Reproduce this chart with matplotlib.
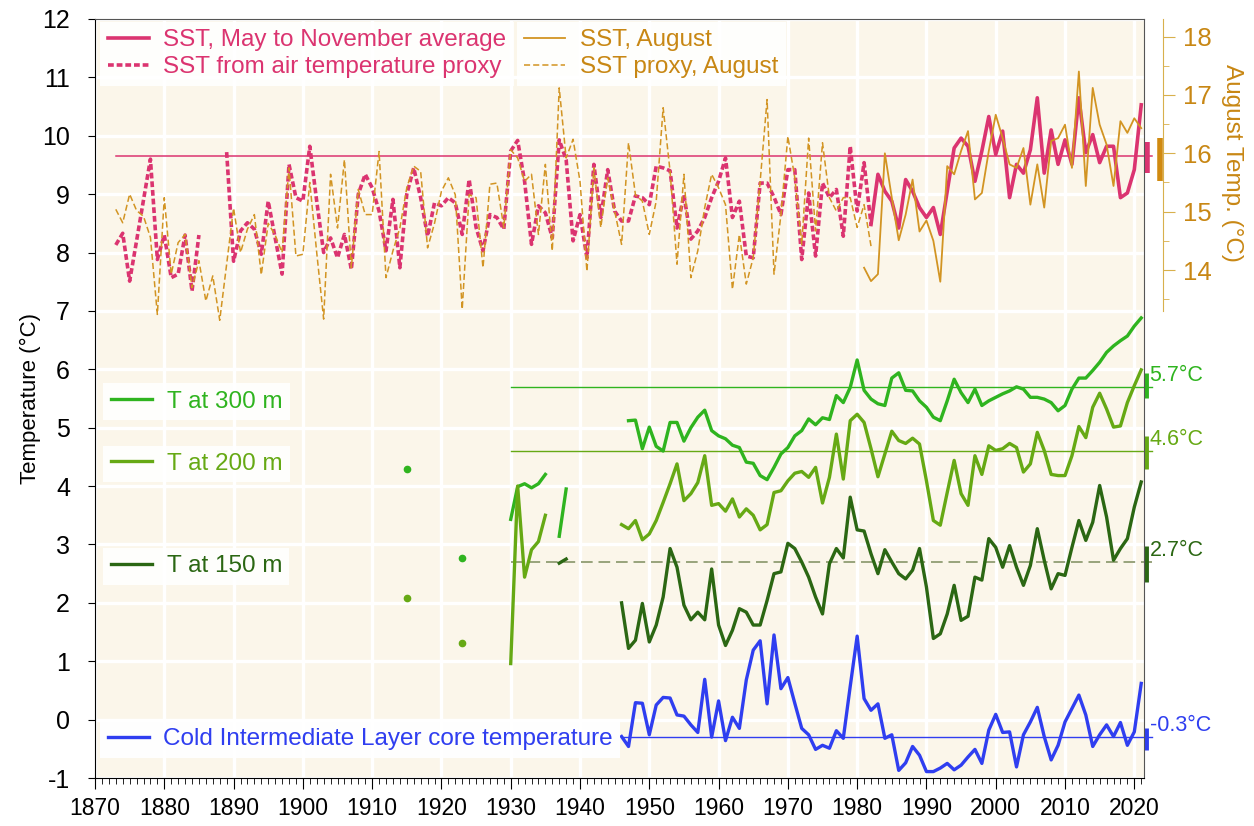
import numpy as np
import matplotlib
matplotlib.use("Agg")
import matplotlib.pyplot as plt
from matplotlib.lines import Line2D

plt.rcParams['font.family'] = ['Liberation Sans', 'DejaVu Sans']
plt.rcParams['axes.unicode_minus'] = False

nan = np.nan

# Sea surface temperature, May-November mean (measured) and air-temperature proxy
sst_years = np.arange(1982, 2022)
sst = [8.48, 9.34, 9.05, 8.88, 8.42, 9.25, 9.05, 8.77, 8.60, 8.77,
       8.31, 9.05, 9.79, 9.96, 9.82, 9.22, 9.74, 10.33, 9.68, 10.08,
       8.94, 9.51, 9.36, 9.76, 10.65, 9.36, 10.10, 9.51, 9.93, 9.51,
       10.65, 9.71, 10.02, 9.54, 9.82, 9.82, 8.94, 9.02, 9.42, 10.53]

proxy_years = np.arange(1873, 1983)
sst_proxy = [8.13, 8.33, 7.51, 8.20, 8.90, 9.60, 7.88, 8.30, 7.57, 7.63,
             8.30, 7.34, 8.30, nan, nan, nan, 9.72, 7.85, 8.37, 8.51,
             8.40, 7.97, 8.88, 8.25, 7.63, 9.51, 8.94, 8.88, 9.82, 8.88,
             8.00, 8.25, 7.91, 8.31, 7.71, 9.00, 9.34, 9.11, 8.71, 8.03,
             8.91, 7.74, 9.00, 9.45, 8.94, 8.28, 8.85, 8.80, 8.94, 8.85,
             8.31, 9.25, 8.43, 8.03, 8.65, 8.60, 8.40, 9.74, 9.92, 9.22,
             8.14, 8.80, 8.68, 8.25, 9.93, 9.59, 8.20, 8.65, 7.91, 9.51,
             8.60, 9.42, 8.71, 8.54, 8.54, 8.97, 8.94, 8.82, 9.48, 9.45,
             9.40, 8.42, 8.99, 8.23, 8.37, 8.60, 8.94, 9.22, 9.62, 8.60,
             8.88, 7.94, 7.91, 9.19, 9.19, 8.95, 8.65, 9.42, 9.42, 7.88,
             9.02, 7.94, 9.19, 8.94, 9.08, 8.28, 9.82, 8.71, 9.54, 8.48]

# August SST (right axis, degC)
aug_years = np.arange(1981, 2022)
aug_sst = [14.04, 13.81, 13.93, 16.00, 15.24, 14.51, 14.95, 15.55, 14.66, 14.85,
           14.50, 13.80, 15.78, 15.64, 16.04, 16.38, 15.21, 15.32, 16.04, 16.66,
           16.26, 15.81, 15.75, 16.09, 15.12, 15.81, 15.07, 16.21, 16.26, 16.49,
           15.75, 17.40, 15.44, 17.12, 16.49, 16.15, 15.44, 16.55, 16.35, 16.60,
           16.43]

aug_proxy = [15.04, 14.81, 15.30, 15.02, 14.92, 14.56, 13.24, 15.24, 13.93, 14.47,
             14.61, 13.70, 14.16, 13.47, 13.90, 13.14, 14.10, 15.06, 14.30, 14.70,
             14.95, 13.92, 14.80, 14.60, 14.30, 15.75, 14.24, 14.27, 15.50, 14.30,
             13.16, 15.64, 14.72, 15.89, 14.04, 15.38, 14.95, 14.95, 16.03, 13.87,
             14.33, 14.72, 15.41, 15.78, 15.69, 14.38, 14.80, 15.35, 15.58, 15.29,
             13.33, 15.29, 15.24, 14.04, 15.47, 15.49, 14.73, 16.06, 15.92, 15.52,
             15.64, 14.61, 15.81, 14.33, 17.12, 15.92, 16.24, 15.52, 13.98, 15.75,
             14.73, 15.58, 15.01, 14.44, 16.18, 15.29, 15.18, 14.61, 15.18, 16.78,
             15.69, 14.10, 15.64, 13.87, 14.33, 15.07, 15.64, 15.41, 15.12, 13.67,
             14.61, 13.76, 14.21, 15.52, 16.92, 13.93, 14.95, 16.29, 15.58, 14.44,
             16.26, 14.67, 16.18, 15.24, 15.01, 15.24, 15.24, 14.73, 15.12, 14.41]

# Deep temperatures
early_years = np.arange(1930, 1939)
t300_early = [3.43, 3.99, 4.04, 3.97, 4.04, 4.20, nan, 3.14, 3.95]
t200_early = [0.96, 4.00, 2.44, 2.91, 3.05, 3.50, nan, nan, nan]
t150_early = [nan, nan, nan, nan, nan, nan, nan, 2.68, 2.75]

dot_years = [1915, 1923]
t300_dots = [4.30, 2.76]
t200_dots = [2.08, 1.31]

t300_years = np.arange(1947, 2022)
t300 = [5.12, 5.13, 4.64, 5.01, 4.68, 4.60, 5.09, 5.09, 4.77, 5.00,
        5.18, 5.30, 4.95, 4.86, 4.81, 4.70, 4.66, 4.41, 4.39, 4.18,
        4.11, 4.32, 4.55, 4.66, 4.86, 4.95, 5.15, 5.05, 5.17, 5.14,
        5.55, 5.43, 5.69, 6.16, 5.64, 5.49, 5.41, 5.38, 5.85, 5.94,
        5.64, 5.63, 5.46, 5.35, 5.18, 5.12, 5.46, 5.83, 5.60, 5.43,
        5.66, 5.38, 5.46, 5.52, 5.58, 5.63, 5.70, 5.66, 5.52, 5.52,
        5.49, 5.43, 5.29, 5.38, 5.66, 5.85, 5.85, 5.98, 6.12, 6.29,
        6.40, 6.49, 6.57, 6.74, 6.88]

deep_years = np.arange(1946, 2022)
t200 = [3.34, 3.27, 3.41, 3.08, 3.18, 3.41, 3.72, 4.04, 4.38, 3.75,
        3.87, 4.06, 4.52, 3.67, 3.70, 3.57, 3.78, 3.47, 3.61, 3.50,
        3.25, 3.34, 3.89, 3.92, 4.09, 4.22, 4.25, 4.15, 4.32, 3.71,
        4.15, 4.89, 4.12, 5.12, 5.23, 5.09, 4.64, 4.16, 4.55, 4.94,
        4.78, 4.73, 4.82, 4.72, 4.09, 3.41, 3.33, 3.89, 4.44, 3.87,
        3.67, 4.52, 4.20, 4.69, 4.61, 4.64, 4.73, 4.66, 4.24, 4.38,
        4.92, 4.61, 4.20, 4.18, 4.18, 4.52, 5.02, 4.83, 5.35, 5.59,
        5.32, 5.01, 5.03, 5.43, 5.72, 5.99]

t150 = [2.00, 1.22, 1.36, 1.99, 1.33, 1.62, 2.10, 2.93, 2.61, 1.96,
        1.71, 1.84, 1.71, 2.58, 1.62, 1.27, 1.53, 1.90, 1.84, 1.62,
        1.62, 2.04, 2.50, 2.53, 3.02, 2.93, 2.70, 2.44, 2.10, 1.81,
        2.67, 2.93, 2.77, 3.81, 3.25, 3.23, 2.84, 2.50, 2.91, 2.70,
        2.50, 2.41, 2.56, 2.93, 2.27, 1.39, 1.47, 1.81, 2.30, 1.70,
        1.77, 2.44, 2.39, 3.10, 2.95, 2.61, 2.98, 2.61, 2.30, 2.64,
        3.27, 2.73, 2.24, 2.50, 2.47, 2.95, 3.41, 3.07, 3.38, 4.01,
        3.47, 2.73, 2.93, 3.10, 3.64, 4.07]

cil = [-0.29, -0.46, 0.29, 0.28, -0.26, 0.25, 0.38, 0.37, 0.08, 0.06,
       -0.09, -0.22, 0.69, -0.30, 0.32, -0.36, 0.04, -0.15, 0.68, 1.19,
       1.35, 0.27, 1.45, 0.53, 0.72, 0.28, -0.15, -0.26, -0.51, -0.44,
       -0.49, -0.19, -0.32, 0.57, 1.43, 0.36, 0.16, 0.27, -0.32, -0.26,
       -0.87, -0.74, -0.46, -0.61, -0.89, -0.89, -0.83, -0.75, -0.86, -0.78,
       -0.64, -0.51, -0.75, -0.18, 0.09, -0.22, -0.21, -0.81, -0.26, -0.04,
       0.21, -0.29, -0.69, -0.44, -0.04, 0.19, 0.42, 0.08, -0.46, -0.26,
       -0.09, -0.29, -0.05, -0.44, -0.21, 0.62]

# long-term means and spread markers
sst_mean = 9.65
sst_spread = (9.36, 9.90)
aug_spread = (15.52, 16.26)
deep_means = [5.7, 4.6, 2.7, -0.3]
deep_spreads = [(5.51, 5.94), (4.30, 4.86), (2.35, 2.98), (-0.52, -0.15)]

PINK = '#db3470'
ORANGE = '#d29422'
ORANGE_TXT = '#c88714'
G300 = '#2fb41f'
G200 = '#66a914'
G150 = '#2b6713'
BLUE = '#2f3ef0'
AUG_OFFSET = 6.3   # August axis = left axis + 6.3

fig = plt.figure(figsize=(12.54, 8.26), dpi=100)
ax = fig.add_axes([95 / 1254, 48 / 826, 1049 / 1254, 759 / 826])
ax.set_facecolor('#fbf6ea')
ax.set_xlim(1870, 2021.4)
ax.set_ylim(-1, 12)
ax.set_xticks(np.arange(1870, 2021, 10))
ax.set_xticks(np.arange(1870, 2022, 1), minor=True)
ax.set_yticks(np.arange(-1, 13, 1))
ax.grid(True, which='major', color='white', lw=2.4)
ax.set_axisbelow(True)
ax.tick_params(axis='x', which='major', length=8, labelsize=16.5, pad=6)
ax.tick_params(axis='x', which='minor', length=4.5)
ax.tick_params(axis='y', which='major', length=5, labelsize=18, pad=13)
for side in ['top', 'right']:
    ax.spines[side].set_color('#555555')
ax.set_ylabel('Temperature (°C)', fontsize=16, labelpad=1)

# surface series
ax.plot(proxy_years, sst_proxy, color=PINK, lw=2.6, ls=(0, (1.6, 0.8)))
ax.plot(sst_years, sst, color=PINK, lw=2.6)
ax.plot([1873, 2022.6], [sst_mean] * 2, color=PINK, lw=1.1, clip_on=False)
ax.plot([2021.9] * 2, sst_spread, color=PINK, lw=4, clip_on=False, solid_capstyle='butt')

# deep series
colors = [G300, G200, G150, BLUE]
starts = [1930, 1930, 1930, 1946]
for mean, spread, col, x0 in zip(deep_means, deep_spreads, colors, starts):
    if col == G150:
        ax.plot([x0, 2022.6], [mean] * 2, color='#98a37c', lw=1.4, ls=(0, (6, 3)), clip_on=False)
    else:
        ax.plot([x0, 2022.6], [mean] * 2, color=col, lw=1.0, clip_on=False)
    ax.plot([2021.7] * 2, spread, color=col, lw=3.5, clip_on=False, solid_capstyle='butt')
    ax.text(2022.2, mean + 0.2, f'{mean:.1f}°C', color=col, fontsize=15.5,
            ha='left', va='center', clip_on=False)

ax.plot(early_years, t300_early, color=G300, lw=2.4)
ax.plot(early_years, t200_early, color=G200, lw=2.4)
ax.plot(early_years, t150_early, color=G150, lw=2.4)
ax.plot(dot_years, t300_dots, 'o', color=G300, ms=4.5)
ax.plot(dot_years, t200_dots, 'o', color=G200, ms=4.5)
ax.plot(t300_years, t300, color=G300, lw=2.4)
ax.plot(deep_years, t200, color=G200, lw=2.4)
ax.plot(deep_years, t150, color=G150, lw=2.4)
ax.plot(deep_years, cil, color=BLUE, lw=2.4)

# August axis on the right, only spanning the upper part
ax2 = ax.twinx()
ax2.set_ylim(-1 + AUG_OFFSET, 12 + AUG_OFFSET)
for side in ['top', 'left', 'bottom']:
    ax2.spines[side].set_visible(False)
ax2.spines['right'].set_position(('outward', 13.7))
ax2.spines['right'].set_bounds(13.3, 18.3)
ax2.spines['right'].set_color('#d8b04c')
ax2.set_yticks(np.arange(14, 19, 1))
ax2.set_yticks(np.arange(13.5, 18, 1), minor=True)
ax2.tick_params(axis='y', which='major', length=8.6, color='#d8b04c',
                labelcolor=ORANGE_TXT, labelsize=18.5, pad=5.5)
ax2.tick_params(axis='y', which='minor', length=4, color='#d8b04c')
ax2.set_ylabel('August Temp. (°C)', color=ORANGE_TXT, fontsize=17.5,
               rotation=270, va='center')
ax2.yaxis.set_label_coords(1.084, 0.81)

ax2.plot(proxy_years, aug_proxy, color=ORANGE, lw=1.1, ls=(0, (4, 2)))
ax2.plot(aug_years, aug_sst, color=ORANGE, lw=1.3)
ax2.plot([2023.75] * 2, aug_spread, color='#d08a10', lw=4, clip_on=False, solid_capstyle='butt')


def key(axis, handles, labels, color, anchor):
    leg = axis.legend(handles, labels, loc='upper left', bbox_to_anchor=anchor,
                      borderaxespad=0, fontsize=17.5, labelcolor=color,
                      frameon=True, framealpha=0.9, edgecolor='none',
                      facecolor='white', fancybox=False, borderpad=0.3,
                      handlelength=1.7, handletextpad=0.6, labelspacing=0.2)
    axis.add_artist(leg)


key(ax2, [Line2D([], [], color=PINK, lw=2.6),
          Line2D([], [], color=PINK, lw=2.6, ls=(0, (1.6, 0.8)))],
    ['SST, May to November average', 'SST from air temperature proxy'], PINK, (0.005, 0.996))
key(ax2, [Line2D([], [], color=ORANGE, lw=1.3),
          Line2D([], [], color=ORANGE, lw=1.1, ls=(0, (4, 2)))],
    ['SST, August', 'SST proxy, August'], ORANGE_TXT, (0.402, 0.996))
key(ax2, [Line2D([], [], color=G300, lw=2.4)], ['T at 300 m'], G300, (0.008, 0.52))
key(ax2, [Line2D([], [], color=G200, lw=2.4)], ['T at 200 m'], G200, (0.008, 0.438))
key(ax2, [Line2D([], [], color=G150, lw=2.4)], ['T at 150 m'], G150, (0.008, 0.303))
key(ax2, [Line2D([], [], color=BLUE, lw=2.4)], ['Cold Intermediate Layer core temperature'],
    BLUE, (0.005, 0.075))

fig.savefig('out.png', dpi=100)
